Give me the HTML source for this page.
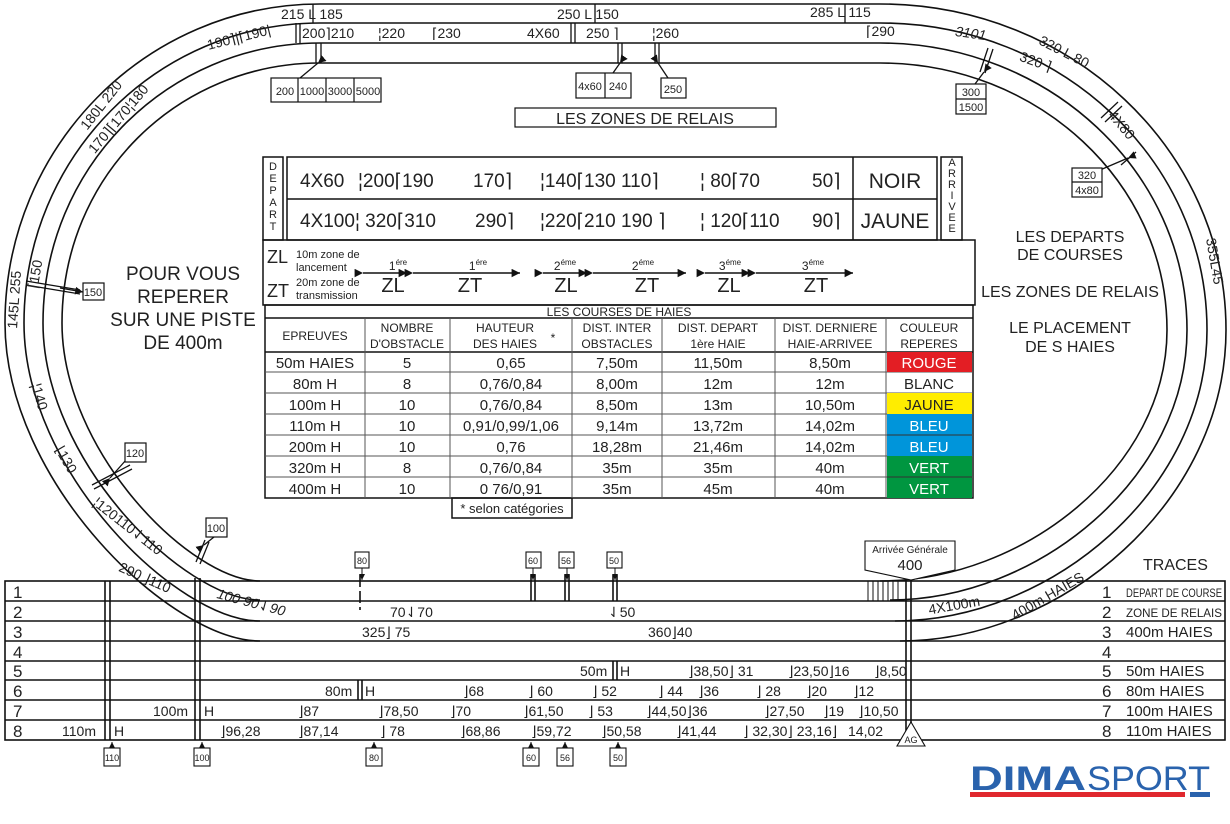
<!DOCTYPE html>
<html><head><meta charset="utf-8"><style>
html,body{margin:0;padding:0;background:#fff}
svg{display:block}
text{font-family:"Liberation Sans","DejaVu Sans",sans-serif;fill:#222}
</style></head><body>
<svg width="1230" height="824" viewBox="0 0 1230 824" xmlns="http://www.w3.org/2000/svg">
<defs>
<marker id="ah" markerWidth="8" markerHeight="8" refX="6" refY="3" orient="auto"><path d="M0,0 L6,3 L0,6 z" fill="#111"/></marker>
</defs>
<g fill="none" stroke="#111" stroke-width="1.6">
<!-- track curves -->
<path d="M320,4 L880,4 C1071,4 1226,150 1226,330 C1226,501 1063,641 900,641"/>
<path d="M320,4 C146,4 5,147 5,323 C5,482 171,641 260,641"/>
<path d="M320,23 L880,23 C1060,23 1207,160 1207,330 C1207,490 1051,621 895,621"/>
<path d="M320,23 C157,23 24,157 24,323 C24,472 177,621 260,621"/>
<path d="M320,43 L880,43 C1049,43 1187,172 1187,330 C1187,478 1038,600 890,600"/>
<path d="M320,43 C167,43 43,168 43,323 C43,461 184,600 260,600"/>
<path d="M320,63 L880,63 C1038,63 1167,183 1167,330 C1167,468 1023,581 880,581"/>
<path d="M320,63 C178,63 62,176 62,323 C62,452 191,581 260,581"/>
</g>
<g stroke="#111" stroke-width="1.3" fill="none">
<!-- ticks on top -->
<line x1="316" y1="43" x2="316" y2="63"/><line x1="321" y1="43" x2="321" y2="63"/>
<line x1="618" y1="43" x2="618" y2="63"/><line x1="622" y1="43" x2="622" y2="63"/>
<line x1="655" y1="43" x2="655" y2="63"/><line x1="659" y1="43" x2="659" y2="63"/>
<line x1="571" y1="23" x2="571" y2="43"/><line x1="575" y1="23" x2="575" y2="43"/>
<line x1="296" y1="23" x2="296" y2="43"/><line x1="300" y1="23" x2="300" y2="43"/>
<line x1="313" y1="4" x2="313" y2="23"/>
<line x1="595" y1="4" x2="595" y2="23"/>
<line x1="845" y1="4" x2="845" y2="23"/>
<line x1="988" y1="48" x2="980" y2="72"/><line x1="993" y1="49" x2="985" y2="73"/>
<line x1="1118" y1="102" x2="1101" y2="118"/><line x1="1122" y1="106" x2="1105" y2="122"/>
<line x1="1136" y1="152" x2="1121" y2="165"/>
<line x1="26" y1="281" x2="80" y2="290"/><line x1="26" y1="285" x2="80" y2="294"/>
<line x1="92" y1="485" x2="130" y2="465"/><line x1="94" y1="489" x2="132" y2="469"/>
<line x1="196" y1="562" x2="205" y2="540"/><line x1="200" y1="564" x2="209" y2="542"/>
<!-- arrows to boxes -->
<line x1="318" y1="63" x2="300" y2="78" marker-start="url(#ah)"/>
<line x1="620" y1="63" x2="613" y2="73" marker-start="url(#ah)"/>
<line x1="658" y1="63" x2="668" y2="78" marker-start="url(#ah)"/>
<line x1="984" y1="72" x2="975" y2="84" marker-start="url(#ah)"/>
<line x1="1128" y1="158" x2="1100" y2="170" marker-start="url(#ah)"/>
<line x1="60" y1="288" x2="83" y2="292" marker-end="url(#ah)"/>
<line x1="110" y1="478" x2="126" y2="460" marker-start="url(#ah)"/>
<line x1="204" y1="545" x2="214" y2="537" marker-start="url(#ah)"/>
</g>
<!-- top labels -->
<g font-size="14">
<text x="281" y="19">215 L 185</text>
<text x="557" y="19">250 L 150</text>
<text x="810" y="17">285 L 115</text>
<text x="302" y="38">200⌉210</text>
<text x="378" y="38">¦220</text>
<text x="432" y="38">⌈230</text>
<text x="527" y="38">4X60</text>
<text x="586" y="38">250 ⌉</text>
<text x="652" y="38">¦260</text>
<text x="866" y="36">⌈290</text>
<text transform="translate(240,42) rotate(-14)" text-anchor="middle">190⌉|⌈190|</text>
<text transform="translate(970,38) rotate(8)" text-anchor="middle" font-style="italic">3101</text>
<text transform="translate(1062,56) rotate(27)" text-anchor="middle">320 L 80</text>
<text transform="translate(1034,66) rotate(20)" text-anchor="middle">320 ⌉</text>
<text transform="translate(1118,128) rotate(50)" text-anchor="middle">4X80</text>
<text transform="translate(1210,262) rotate(80)" text-anchor="middle">355L45</text>
<text transform="translate(105,108) rotate(-52)" text-anchor="middle">180L 220</text>
<text transform="translate(122,122) rotate(-50)" text-anchor="middle">170⌉⌈170¦180</text>
<text transform="translate(19,300) rotate(-86)" text-anchor="middle">145L 255</text>
<text transform="translate(40,275) rotate(-80)" text-anchor="middle">⌈150</text>
<text transform="translate(35,398) rotate(74)" text-anchor="middle">¦140</text>
<text transform="translate(62,462) rotate(60)" text-anchor="middle">⌊130</text>
<text transform="translate(125,530) rotate(38)" text-anchor="middle">¦120110⇃110</text>
<text transform="translate(143,582) rotate(24)" text-anchor="middle">290 ⌋110</text>
<text transform="translate(250,607) rotate(15)" text-anchor="middle" font-style="italic">100 90⇃90</text>
<text transform="translate(955,610) rotate(-10)" text-anchor="middle">4X100m</text>
<text transform="translate(1050,600) rotate(-30)" text-anchor="middle">400m HAIES</text>
</g>
<!-- small boxes -->
<g fill="#fff" stroke="#111" stroke-width="1.2">
<rect x="271" y="78" width="110" height="24"/>
<rect x="576" y="73" width="55" height="25"/>
<rect x="661" y="78" width="25" height="20"/>
<rect x="515" y="108" width="261" height="19"/>
<rect x="956" y="84" width="30" height="30"/>
<rect x="1072" y="168" width="30" height="29"/>
<rect x="83" y="283" width="21" height="17"/>
<rect x="125" y="443" width="21" height="19"/>
<rect x="206" y="518" width="21" height="19"/>
</g>
<g stroke="#111" stroke-width="1.2">
<line x1="298" y1="78" x2="298" y2="102"/><line x1="326" y1="78" x2="326" y2="102"/><line x1="354" y1="78" x2="354" y2="102"/>
<line x1="605" y1="73" x2="605" y2="98"/>
<line x1="956" y1="99" x2="986" y2="99"/><line x1="1072" y1="182" x2="1102" y2="182"/>
</g>
<g font-size="11" text-anchor="middle">
<text x="285" y="95">200</text><text x="312" y="95">1000</text><text x="340" y="95">3000</text><text x="368" y="95">5000</text>
<text x="590" y="90">4x60</text><text x="618" y="90">240</text>
<text x="673" y="93">250</text>
<text x="971" y="96">300</text><text x="971" y="111">1500</text>
<text x="1087" y="179">320</text><text x="1087" y="194">4x80</text>
<text x="93" y="296">150</text><text x="135" y="457">120</text><text x="216" y="532">100</text>
</g>
<text x="645" y="124" font-size="16" text-anchor="middle" fill="#333">LES ZONES DE RELAIS</text>
<!-- center texts -->
<g font-size="19" text-anchor="middle" fill="#333">
<text x="183" y="280">POUR VOUS</text><text x="183" y="303">REPERER</text><text x="183" y="326">SUR UNE PISTE</text><text x="183" y="349">DE 400m</text>
</g>
<g font-size="16" text-anchor="middle">
<text x="1070" y="242">LES DEPARTS</text><text x="1070" y="260">DE COURSES</text>
<text x="1070" y="297">LES ZONES DE RELAIS</text>
<text x="1070" y="333">LE PLACEMENT</text><text x="1070" y="352">DE S HAIES</text>
</g>
<!-- relay table -->
<g fill="none" stroke="#111" stroke-width="1.5">
<rect x="263" y="157" width="20" height="83"/>
<rect x="287" y="157" width="650" height="83"/>
<line x1="287" y1="199" x2="937" y2="199"/>
<line x1="853" y1="157" x2="853" y2="240"/>
<rect x="941" y="157" width="21" height="83"/>
<rect x="263" y="240" width="712" height="65"/>
<rect x="265" y="305" width="708" height="193"/>
<line x1="265" y1="318" x2="973" y2="318"/>
<line x1="265" y1="352" x2="973" y2="352"/>
<rect x="452" y="498" width="120" height="20"/>
</g>
<g stroke="#555" stroke-width="1">
<line x1="265" y1="372" x2="973" y2="372"/><line x1="265" y1="393" x2="973" y2="393"/>
<line x1="265" y1="414" x2="973" y2="414"/><line x1="265" y1="435" x2="973" y2="435"/>
<line x1="265" y1="456" x2="973" y2="456"/><line x1="265" y1="477" x2="973" y2="477"/>
<line x1="365" y1="318" x2="365" y2="498"/><line x1="450" y1="318" x2="450" y2="498"/>
<line x1="572" y1="318" x2="572" y2="498"/><line x1="662" y1="318" x2="662" y2="498"/>
<line x1="775" y1="318" x2="775" y2="498"/><line x1="886" y1="318" x2="886" y2="498"/>
</g>
<g font-size="11" text-anchor="middle">
<text x="273" y="170">D</text><text x="273" y="182">E</text><text x="273" y="194">P</text><text x="273" y="206">A</text><text x="273" y="218">R</text><text x="273" y="230">T</text>
<text x="952" y="166">A</text><text x="952" y="177">R</text><text x="952" y="188">R</text><text x="952" y="199">I</text><text x="952" y="210">V</text><text x="952" y="221">E</text><text x="952" y="232">E</text>
</g>
<g font-size="19">
<text x="300" y="187">4X60</text><text x="358" y="187">¦200⌈190</text><text x="473" y="187">170⌉</text>
<text x="540" y="187">¦140⌈130 110⌉</text><text x="700" y="187">¦ 80⌈70</text><text x="812" y="187">50⌉</text>
<text x="300" y="227">4X100¦ 320⌈310</text><text x="475" y="227">290⌉</text>
<text x="540" y="227">¦220⌈210 190 ⌉</text><text x="700" y="227">¦ 120⌈110</text><text x="812" y="227">90⌉</text>
</g>
<g font-size="21" text-anchor="middle"><text x="895" y="188">NOIR</text><text x="895" y="228">JAUNE</text></g>
<!-- ZL ZT -->
<text x="267" y="263" font-size="18">ZL</text><text x="267" y="297" font-size="18">ZT</text>
<g font-size="11"><text x="296" y="258">10m zone de</text><text x="296" y="271">lancement</text><text x="296" y="286">20m  zone de</text><text x="296" y="299">transmission</text></g>
<g stroke="#111" stroke-width="1.4">
<line x1="363" y1="273" x2="407" y2="273" marker-start="url(#ah)" marker-end="url(#ah)"/>
<line x1="413" y1="273" x2="520" y2="273" marker-start="url(#ah)" marker-end="url(#ah)"/>
<line x1="543" y1="273" x2="587" y2="273" marker-start="url(#ah)" marker-end="url(#ah)"/>
<line x1="593" y1="273" x2="686" y2="273" marker-start="url(#ah)" marker-end="url(#ah)"/>
<line x1="705" y1="273" x2="750" y2="273" marker-start="url(#ah)" marker-end="url(#ah)"/>
<line x1="756" y1="273" x2="853" y2="273" marker-start="url(#ah)" marker-end="url(#ah)"/>
</g>
<g font-size="12" text-anchor="middle">
<text x="398" y="270">1<tspan font-size="8" dy="-5">ére</tspan></text><text x="478" y="270">1<tspan font-size="8" dy="-5">ére</tspan></text>
<text x="565" y="270">2<tspan font-size="8" dy="-5">éme</tspan></text><text x="643" y="270">2<tspan font-size="8" dy="-5">éme</tspan></text>
<text x="730" y="270">3<tspan font-size="8" dy="-5">éme</tspan></text><text x="813" y="270">3<tspan font-size="8" dy="-5">éme</tspan></text>
</g>
<g font-size="20" text-anchor="middle">
<text x="393" y="292">ZL</text><text x="470" y="292">ZT</text><text x="566" y="292">ZL</text><text x="647" y="292">ZT</text><text x="729" y="292">ZL</text><text x="816" y="292">ZT</text>
</g>
<!-- hurdles -->
<text x="619" y="316" font-size="12" text-anchor="middle">LES COURSES DE HAIES</text>
<g font-size="12" text-anchor="middle">
<text x="315" y="340">EPREUVES</text>
<text x="407" y="332">NOMBRE</text><text x="407" y="348">D'OBSTACLE</text>
<text x="505" y="332">HAUTEUR</text><text x="505" y="348">DES HAIES</text><text x="553" y="342">*</text>
<text x="617" y="332">DIST.  INTER</text><text x="617" y="348">OBSTACLES</text>
<text x="718" y="332">DIST.  DEPART</text><text x="718" y="348">1ère HAIE</text>
<text x="830" y="332">DIST. DERNIERE</text><text x="830" y="348">HAIE-ARRIVEE</text>
<text x="929" y="332">COULEUR</text><text x="929" y="348">REPERES</text>
</g>
<rect x="887" y="352" width="85" height="20" fill="#e31e24"/>
<rect x="887" y="393" width="85" height="21" fill="#ffed00"/>
<rect x="887" y="414" width="85" height="42" fill="#0095da"/>
<line x1="887" y1="435" x2="972" y2="435" stroke="#333"/>
<rect x="887" y="456" width="85" height="42" fill="#009640"/>
<line x1="887" y1="477" x2="972" y2="477" stroke="#333"/>
<g font-size="15" text-anchor="middle">
<text x="315" y="368">50m HAIES</text><text x="407" y="368">5</text><text x="511" y="368">0,65</text><text x="617" y="368">7,50m</text><text x="718" y="368">11,50m</text><text x="830" y="368">8,50m</text><text x="929" y="368" style="fill:#fff">ROUGE</text>
<text x="315" y="389">80m H</text><text x="407" y="389">8</text><text x="511" y="389">0,76/0,84</text><text x="617" y="389">8,00m</text><text x="718" y="389">12m</text><text x="830" y="389">12m</text><text x="929" y="389">BLANC</text>
<text x="315" y="410">100m H</text><text x="407" y="410">10</text><text x="511" y="410">0,76/0,84</text><text x="617" y="410">8,50m</text><text x="718" y="410">13m</text><text x="830" y="410">10,50m</text><text x="929" y="410">JAUNE</text>
<text x="315" y="431">110m H</text><text x="407" y="431">10</text><text x="511" y="431">0,91/0,99/1,06</text><text x="617" y="431">9,14m</text><text x="718" y="431">13,72m</text><text x="830" y="431">14,02m</text><text x="929" y="431" style="fill:#fff">BLEU</text>
<text x="315" y="452">200m H</text><text x="407" y="452">10</text><text x="511" y="452">0,76</text><text x="617" y="452">18,28m</text><text x="718" y="452">21,46m</text><text x="830" y="452">14,02m</text><text x="929" y="452" style="fill:#fff">BLEU</text>
<text x="315" y="473">320m H</text><text x="407" y="473">8</text><text x="511" y="473">0,76/0,84</text><text x="617" y="473">35m</text><text x="718" y="473">35m</text><text x="830" y="473">40m</text><text x="929" y="473" style="fill:#fff">VERT</text>
<text x="315" y="494">400m H</text><text x="407" y="494">10</text><text x="511" y="494">0 76/0,91</text><text x="617" y="494">35m</text><text x="718" y="494">45m</text><text x="830" y="494">40m</text><text x="929" y="494" style="fill:#fff">VERT</text>
</g>
<text x="512" y="513" font-size="13" text-anchor="middle">* selon catégories</text>
<!-- lanes table -->
<g fill="none" stroke="#111" stroke-width="1.6">
<rect x="5" y="581" width="1220" height="159"/>
<line x1="5" y1="601" x2="1225" y2="601"/><line x1="5" y1="621" x2="1225" y2="621"/>
<line x1="5" y1="641" x2="1225" y2="641"/><line x1="5" y1="661" x2="1225" y2="661"/>
<line x1="5" y1="680" x2="1225" y2="680"/><line x1="5" y1="700" x2="1225" y2="700"/>
<line x1="5" y1="720" x2="1225" y2="720"/>
<line x1="105" y1="581" x2="105" y2="740"/><line x1="110" y1="581" x2="110" y2="740"/>
<line x1="195" y1="578" x2="195" y2="740"/><line x1="200" y1="578" x2="200" y2="740"/>
<line x1="906" y1="576" x2="906" y2="740"/><line x1="911" y1="576" x2="911" y2="740"/>
<line x1="360" y1="575" x2="360" y2="610" stroke-dasharray="12,4"/>
<line x1="531" y1="575" x2="531" y2="601"/><line x1="535" y1="575" x2="535" y2="601"/>
<line x1="565" y1="575" x2="565" y2="601"/><line x1="569" y1="575" x2="569" y2="601"/>
<line x1="613" y1="575" x2="613" y2="601"/><line x1="617" y1="575" x2="617" y2="601"/>
<line x1="613" y1="661" x2="613" y2="680"/><line x1="617" y1="661" x2="617" y2="680"/>
<line x1="358" y1="680" x2="358" y2="700"/><line x1="362" y1="680" x2="362" y2="700"/>
</g>
<g stroke="#111" stroke-width="1">
<line x1="868" y1="581" x2="868" y2="601"/><line x1="873" y1="581" x2="873" y2="601"/><line x1="878" y1="581" x2="878" y2="601"/><line x1="883" y1="581" x2="883" y2="601"/><line x1="888" y1="581" x2="888" y2="601"/><line x1="893" y1="581" x2="893" y2="601"/><line x1="898" y1="581" x2="898" y2="601"/>
<line x1="362" y1="568" x2="362" y2="580" marker-end="url(#ah)"/>
<line x1="533" y1="568" x2="533" y2="580" marker-end="url(#ah)"/>
<line x1="567" y1="568" x2="567" y2="580" marker-end="url(#ah)"/>
<line x1="615" y1="568" x2="615" y2="580" marker-end="url(#ah)"/>
<line x1="112" y1="748" x2="112" y2="742" marker-end="url(#ah)"/>
<line x1="202" y1="748" x2="202" y2="742" marker-end="url(#ah)"/>
<line x1="374" y1="748" x2="374" y2="742" marker-end="url(#ah)"/>
<line x1="531" y1="748" x2="531" y2="742" marker-end="url(#ah)"/>
<line x1="565" y1="748" x2="565" y2="742" marker-end="url(#ah)"/>
<line x1="618" y1="748" x2="618" y2="742" marker-end="url(#ah)"/>
<line x1="911" y1="740" x2="911" y2="722"/>
</g>
<g fill="#fff" stroke="#111" stroke-width="1.1">
<rect x="355" y="552" width="14" height="16"/><rect x="526" y="552" width="15" height="16"/><rect x="559" y="552" width="15" height="16"/><rect x="607" y="552" width="15" height="16"/>
<rect x="104" y="748" width="16" height="18"/><rect x="194" y="748" width="16" height="18"/><rect x="366" y="748" width="16" height="18"/><rect x="523" y="748" width="16" height="18"/><rect x="557" y="748" width="16" height="18"/><rect x="610" y="748" width="16" height="18"/>
<path d="M865,541 H955 V570 L911,580 L865,570 Z"/>
<path d="M911,722 L925,746 H897 Z"/>
</g>
<g font-size="9" text-anchor="middle">
<text x="362" y="564">80</text><text x="533" y="564">60</text><text x="566" y="564">56</text><text x="614" y="564">50</text>
<text x="112" y="761">110</text><text x="202" y="761">100</text><text x="374" y="761">80</text><text x="531" y="761">60</text><text x="565" y="761">56</text><text x="618" y="761">50</text>
<text x="911" y="743">AG</text>
<text x="910" y="553" font-size="10">Arrivée Générale</text>
</g>
<text x="910" y="570" font-size="15" text-anchor="middle">400</text>
<g font-size="17">
<text x="13" y="598">1</text><text x="13" y="618">2</text><text x="13" y="638">3</text><text x="13" y="658">4</text><text x="13" y="677">5</text><text x="13" y="697">6</text><text x="13" y="717">7</text><text x="13" y="737">8</text>
<text x="1102" y="598">1</text><text x="1102" y="618">2</text><text x="1102" y="638">3</text><text x="1102" y="658">4</text><text x="1102" y="677">5</text><text x="1102" y="697">6</text><text x="1102" y="717">7</text><text x="1102" y="737">8</text>
</g>
<text x="1143" y="570" font-size="16">TRACES</text>
<g font-size="15">
<text x="1126" y="597" font-size="12" textLength="96" lengthAdjust="spacingAndGlyphs">DEPART DE COURSE</text>
<text x="1126" y="617" font-size="12" textLength="96" lengthAdjust="spacingAndGlyphs">ZONE DE RELAIS</text>
<text x="1126" y="637">400m HAIES</text>
<text x="1126" y="676">50m HAIES</text><text x="1126" y="696">80m HAIES</text>
<text x="1126" y="716">100m HAIES</text><text x="1126" y="736">110m HAIES</text>
</g>
<g font-size="14">
<text x="390" y="617">70⇃70</text><text x="608" y="617">⇃50</text>
<text x="362" y="637">325⌋  75</text><text x="648" y="637">360⌋40</text>
<text x="580" y="676">50m</text><text x="620" y="676">H</text>
<text x="688" y="676">⌋38,50⌋ 31</text><text x="788" y="676">⌋23,50⌋16</text><text x="874" y="676">⌋8,50</text>
<text x="325" y="696">80m</text><text x="365" y="696">H</text>
<text x="463" y="696">⌋68</text><text x="528" y="696">⌋ 60</text><text x="592" y="696">⌋ 52</text><text x="658" y="696">⌋ 44</text><text x="698" y="696">⌋36</text><text x="756" y="696">⌋ 28</text><text x="806" y="696">⌋20</text><text x="853" y="696">⌋12</text>
<text x="153" y="716">100m</text><text x="204" y="716">H</text>
<text x="298" y="716">⌋87</text><text x="378" y="716">⌋78,50</text><text x="450" y="716">⌋70</text><text x="523" y="716">⌋61,50</text><text x="588" y="716">⌋ 53</text><text x="646" y="716">⌋44,50⌋36</text><text x="764" y="716">⌋27,50</text><text x="823" y="716">⌋19</text><text x="858" y="716">⌋10,50</text>
<text x="62" y="736">110m</text><text x="114" y="736">H</text>
<text x="220" y="736">⌋96,28</text><text x="298" y="736">⌋87,14</text><text x="380" y="736">⌋ 78</text><text x="460" y="736">⌋68,86</text><text x="531" y="736">⌋59,72</text><text x="601" y="736">⌋50,58</text><text x="676" y="736">⌋41,44</text><text x="743" y="736">⌋ 32,30⌋ 23,16⌋</text><text x="848" y="736">14,02</text>
</g>
<!-- logo -->
<text x="970" y="790" font-size="34" font-weight="bold" style="fill:#2a63ad" textLength="116" lengthAdjust="spacingAndGlyphs">DIMA</text>
<text x="1087" y="790" font-size="34" style="fill:#2a63ad" textLength="123" lengthAdjust="spacingAndGlyphs">SPORT</text>
<rect x="970" y="792" width="215" height="5" fill="#e0282e"/>
<rect x="1190" y="792" width="20" height="5" fill="#2a63ad"/>
</svg>
</body></html>
